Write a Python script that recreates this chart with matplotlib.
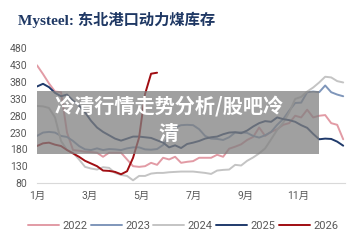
import matplotlib
matplotlib.use("Agg")
import matplotlib.pyplot as plt
from matplotlib.patches import Rectangle

plt.rcParams['font.family'] = ['Roboto', 'Noto Sans CJK SC', 'DejaVu Sans']

years = ["2022", "2023", "2024", "2025", "2026"]
colors = ["#e29ba5", "#7f96ba", "#c4c4c4", "#1f3a6b", "#a00d12"]

s2022 = [430, 404, 376, 352, 350, 230, 178, 176, 173, 172, 170, 158, 170, 170, 170, 150,
         130, 128, 130, 140, 134, 155, 150, 158, 140, 143, 145, 155, 155, 155, 164, 158,
         182, 188, 195, 208, 217, 245, 220, 232, 240, 253, 258, 280, 275, 298, 275, 280,
         282, 258, 253, 210]
s2023 = [220, 230, 232, 230, 220, 217, 205, 190, 180, 178, 183, 178, 181, 180, 178, 183,
         186, 186, 180, 179, 181, 193, 220, 245, 252, 253, 252, 240, 220, 212, 211, 208,
         216, 230, 231, 229, 220, 215, 222, 232, 253, 270, 295, 318, 319, 350, 352, 350,
         370, 350, 343, 338]
s2024 = [309, 308, 303, 275, 205, 178, 170, 150, 128, 123, 120, 127, 125, 110, 104, 101,
         88, 101, 101, 108, 110, 110, 112, 113, 114, 114, 114, 112, 110, 107, 117, 119,
         120, 134, 132, 146, 156, 168, 183, 210, 238, 259, 290, 330, 336, 352, 364, 379,
         396, 394, 383, 379]
s2025 = [367, 375, 365, 348, 338, 343, 325, 310, 290, 265, 245, 232, 222, 212, 206, 212,
         218, 218, 216, 214, 207, 200, 186, 192, 184, 196, 200, 205, 212, 216, 218, 225,
         230, 231, 228, 236, 248, 258, 264, 262, 275, 270, 267, 262, 252, 244, 226, 210,
         212, 211, 203, 191]
s2026 = [190, 198, 200, 194, 190, 178, 168, 158, 146, 138, 130, 117, 116, 113, 106, 115,
         155, 215, 345, 405, 408]
series = [s2022, s2023, s2024, s2025, s2026]

month_labels = ["1月", "3月", "5月", "7月", "9月", "11月"]
weeks_per_month = 4.35
yticks = [80, 130, 180, 230, 280, 330, 380, 430, 480]

W, H = 359, 246
fig = plt.figure(figsize=(W / 100, H / 100), dpi=100)
ax = fig.add_axes([37 / W, 1 - 183 / H, 308 / W, (183 - 48.5) / H])

for name, c, s in zip(years, colors, series):
    ax.plot(range(len(s)), s, color=c, lw=1.4, label=name, solid_capstyle='round')

ax.set_xlim(0, 51.3)
ax.set_ylim(80, 480)
ax.set_yticks(yticks)
ax.set_xticks([i * 2 * weeks_per_month for i in range(len(month_labels))])
ax.set_xticklabels(month_labels)
for sp in ["left", "right", "top"]:
    ax.spines[sp].set_visible(False)
ax.spines["bottom"].set_color("#d9d9d9")
ax.spines["bottom"].set_linewidth(0.8)
ax.tick_params(axis='both', length=0, labelsize=7.5, colors="#595959")
ax.tick_params(axis='x', pad=6)
ax.tick_params(axis='y', pad=7)

leg = fig.legend(loc='center', bbox_to_anchor=(0.51, 1 - 226 / H), ncol=5, frameon=False,
                 fontsize=8, handlelength=2.8, columnspacing=0.3, handletextpad=0.3)
for t in leg.get_texts():
    t.set_color("#595959")

fig.text(18 / W, 1 - 20 / H, "Mysteel: 东北港口动力煤库存", fontsize=11, fontweight='bold',
         color="#1f3864", family=['Liberation Serif', 'Noto Sans CJK SC'], va='center', ha='left')

fig.patches.append(Rectangle((37 / W, 1 - 154 / H), 282 / W, 63 / H, transform=fig.transFigure,
                             facecolor="#808080", alpha=0.75, edgecolor='none', zorder=10))
fig.text(169 / W, 1 - 106.5 / H, "冷清行情走势分析/股吧冷", fontsize=14.5, fontweight='heavy',
         color='white', family=['Noto Sans CJK SC', 'DejaVu Sans'], ha='center', va='center', zorder=11)
fig.text(169 / W, 1 - 134 / H, "清", fontsize=14.5, fontweight='heavy',
         color='white', family=['Noto Sans CJK SC', 'DejaVu Sans'], ha='center', va='center', zorder=11)

fig.savefig("out.png", dpi=100)
